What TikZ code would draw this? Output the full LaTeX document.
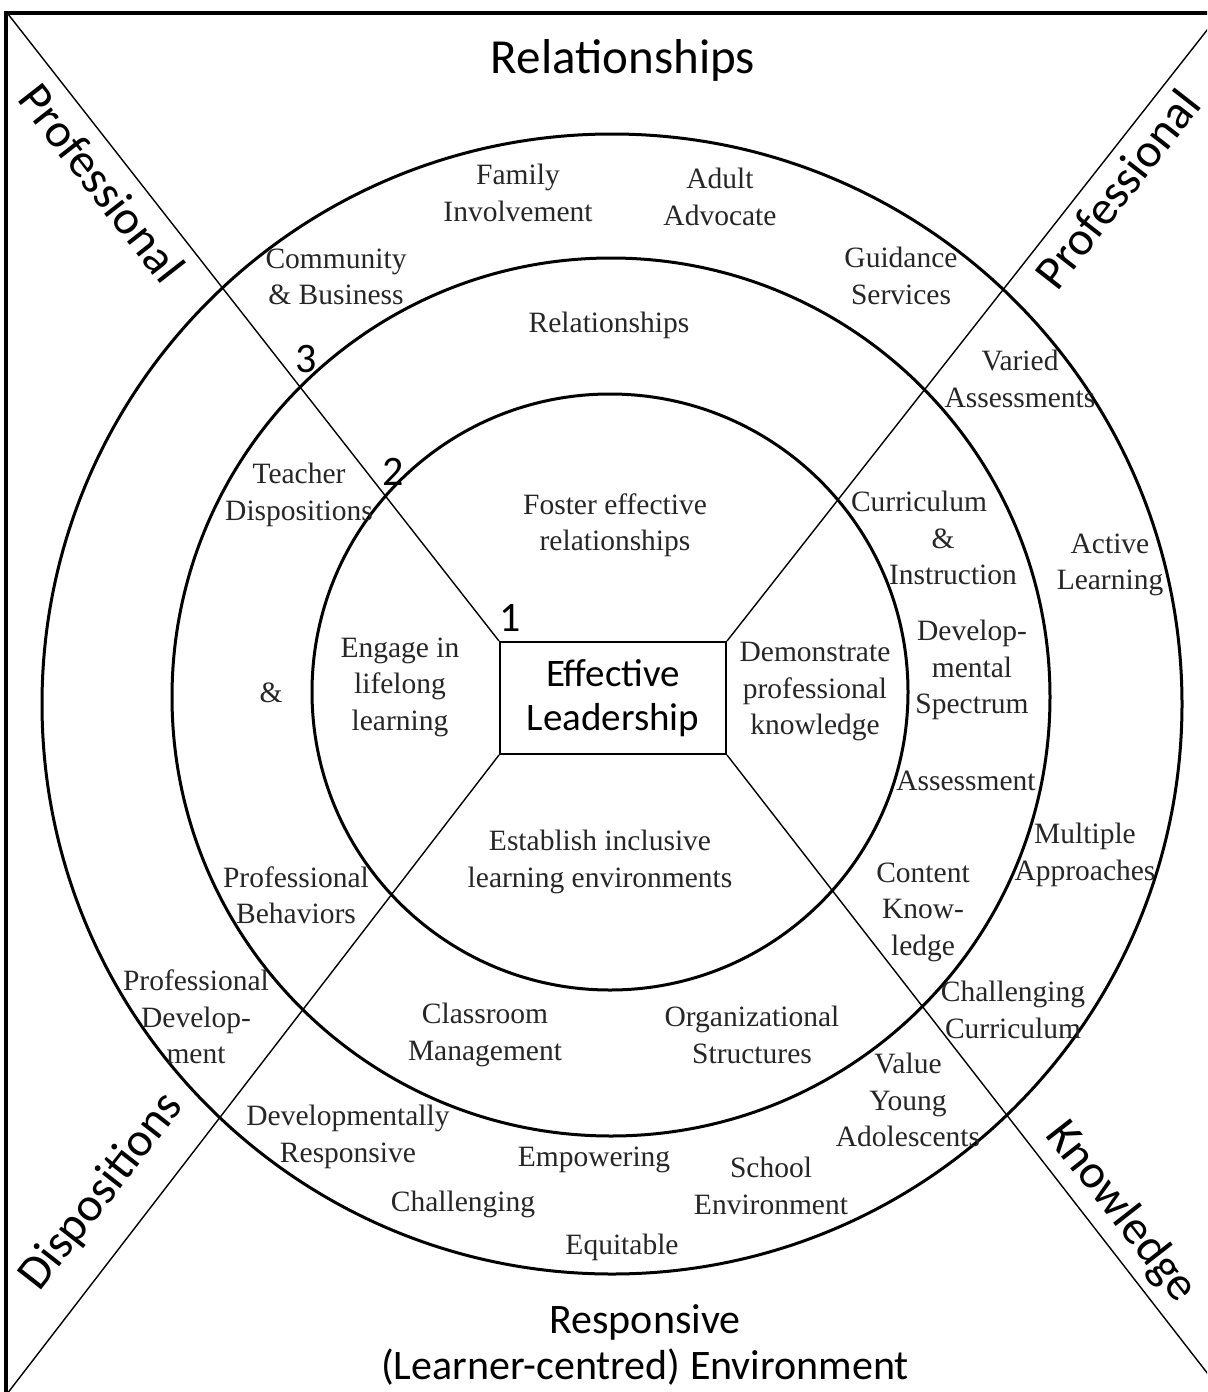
\documentclass[tikz,border=0pt]{standalone}
\usepackage{fontspec}
\setmainfont{Liberation Serif}
\newfontfamily\calfont{Carlito}
\begin{document}
\begin{tikzpicture}[x=0.5pt,y=-0.5pt,
  ring/.style={line width=1.5pt},
  ray/.style={line width=0.7pt},
  lbl/.style={font=\fontsize{14.75}{18.25}\selectfont, align=center, inner sep=0pt, text=black!85},
  big/.style={font=\calfont\fontsize{24.5}{30}\selectfont, inner sep=0pt, align=center},
  diag/.style={font=\calfont\fontsize{24}{30}\selectfont, inner sep=0pt},
  bottomtxt/.style={font=\calfont\fontsize{21}{23}\selectfont, inner sep=0pt, align=center},
  num/.style={font=\calfont\fontsize{21}{24}\selectfont, inner sep=0pt},
  centrebox/.style={draw, line width=1pt, minimum width=113pt, minimum height=56pt, inner sep=0pt,
    align=center, font=\calfont\fontsize{19.5}{22}\selectfont}
]
\useasboundingbox (0,0) rectangle (1207,1392);
\clip (0,0) rectangle (1207,1392);
\fill[white] (0,0) rectangle (1207,1392);
% frame
\draw[line width=1.6pt] (6,13) rectangle (1240,1430);
% rings
\draw[ring] (612,704) circle[radius=285pt];
\draw[ring] (611,697) circle[radius=219.5pt];
\draw[ring] (610,692) circle[radius=149pt];
% centre box
\node[centrebox, fill=white] (box) at (613,698) {Effective\\Leadership};
% rays
\coordinate (tl) at (8,14);
\coordinate (tr) at (1215,20);
\coordinate (bl) at (0,1403);
\coordinate (br) at (1215,1383);
\draw[ray] (box.north west) -- (tl);
\draw[ray] (box.north east) -- (tr);
\draw[ray] (box.south west) -- (bl);
\draw[ray] (box.south east) -- (br);
% big labels
\node[big] (trel) at (623,60) {Relationships};
\node[diag, rotate=-52] (pl) at (102,183) {Professional};
\node[diag, rotate=52] (pr) at (1117,189) {Professional};
\node[diag, rotate=52] (dl) at (102,1192) {Dispositions};
\node[diag, rotate=-52] (kr) at (1121,1212) {Knowledge};
\node[bottomtxt] (resp) at (645,1345) {Responsive\\(Learner-centred) Environment};
% numbers
\node[num] (n1) at (510,618) {1};
\node[num] (n2) at (393,472) {2};
\node[num] (n3) at (306,359) {3};
% outer ring texts
\node[lbl] (fam) at (518,193) {Family\\Involvement};
\node[lbl] (adu) at (720,197) {Adult\\Advocate};
\node[lbl] (com) at (336,277) {Community\\\& Business};
\node[lbl] (gui) at (901,276) {Guidance\\Services};
\node[lbl] (var) at (1020,379) {Varied\\Assessments};
\node[lbl] (act) at (1110,565) {Active\\Learning};
\node[lbl] (mul) at (1085,855) {Multiple\\Approaches};
\node[lbl] (chc) at (1013,1010) {Challenging\\Curriculum};
\node[lbl] (val) at (908,1100) {Value\\Young\\Adolescents};
\node[lbl] (sch) at (771,1186) {School\\Environment};
\node[lbl] (equ) at (622,1247) {Equitable};
\node[lbl] (emp) at (594,1160) {Empowering};
\node[lbl] (cha) at (463,1204) {Challenging};
\node[lbl] (dev) at (348,1137) {Developmentally\\Responsive};
\node[lbl] (pdv) at (196,1017) {Professional\\Develop-\\ment};
% middle ring texts
\node[lbl] (mrel) at (609,325) {Relationships};
\node[lbl] (tea) at (299,495) {Teacher\\Dispositions};
\node[lbl] (amp) at (271,693) {\&};
\node[lbl] (pbe) at (296,895) {Professional\\Behaviors};
\node[lbl] (cla) at (485,1035) {Classroom\\Management};
\node[lbl] (org) at (752,1035) {Organizational\\Structures};
\node[lbl] (cur) at (943,538) {Curriculum\hspace*{24pt}\\\&\\\hspace*{10pt}Instruction};
\node[lbl] (dsp) at (972,670) {Develop-\\mental\\Spectrum};
\node[lbl] (ass) at (966,781) {Assessment};
\node[lbl] (ckn) at (923,912) {Content\\Know-\\ledge};
% inner texts
\node[lbl] (fos) at (615,525) {Foster effective\\relationships};
\node[lbl] (eng) at (400,687) {Engage in\\lifelong\\learning};
\node[lbl] (dem) at (815,692) {Demonstrate\\professional\\knowledge};
\node[lbl] (est) at (600,862) {Establish inclusive\\learning environments};
\end{tikzpicture}
\end{document}
